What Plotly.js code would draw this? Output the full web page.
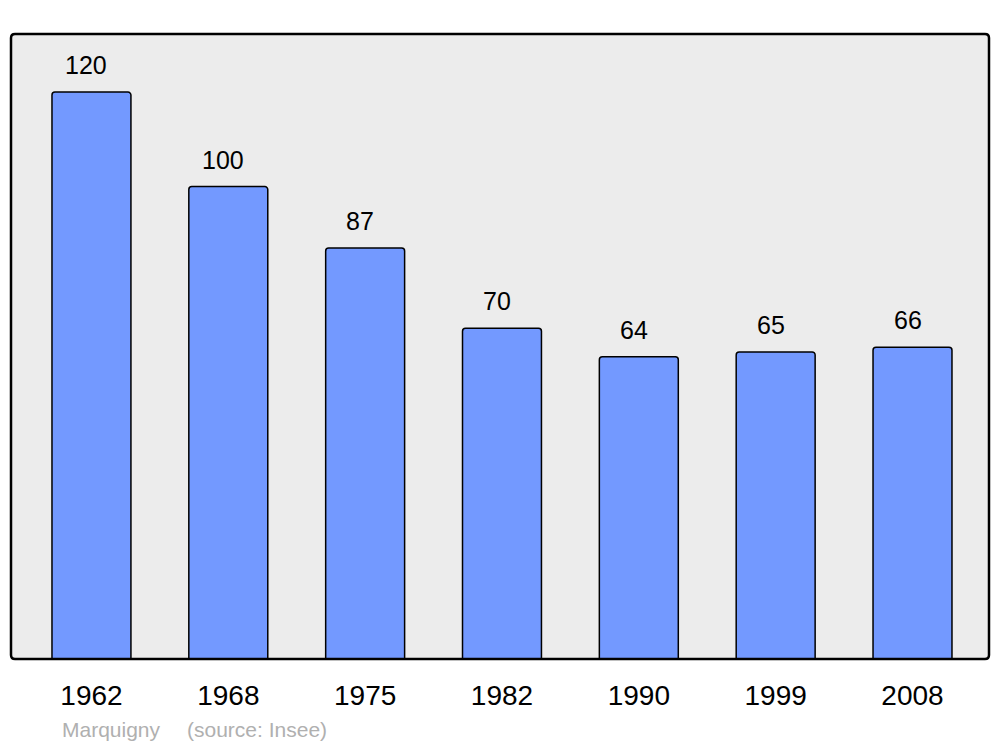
<!DOCTYPE html>
<html><head><meta charset="utf-8">
<script src="https://cdn.plot.ly/plotly-3.0.1.min.js"></script>
<style>html,body{margin:0;padding:0;background:#fff}#c{width:1000px;height:747px}</style>
</head><body><div id="c"></div>
<script>
const years = ['1962','1968','1975','1982','1990','1999','2008'];
const population = [120,100,87,70,64,65,66];
const footerName = 'Marquigny';
const footerSource = '(source: Insee)';

const L=11, R=989, T=34, B=659.5, W=1000, H=747;
const rx = 4/(R-L), ry = 4/(B-T);
const frame = `M ${rx},0 L ${1-rx},0 Q 1,0 1,${ry} L 1,${1-ry} Q 1,1 ${1-rx},1 L ${rx},1 Q 0,1 0,${1-ry} L 0,${ry} Q 0,0 ${rx},0 Z`;

const annotations = years.map((y,i)=>({
  x: i, y: population[i], xref:'x', yref:'y', text: String(population[i]),
  showarrow:false, xanchor:'center', yanchor:'middle', yshift:27, xshift:-5,
  font:{family:'Liberation Sans, Arial, sans-serif', size:25, color:'#000'}
}));
annotations.push({xref:'paper', yref:'paper', x:(60-L)/(R-L), y:-(730-B)/(B-T), xanchor:'left', yanchor:'middle',
  text: footerName, showarrow:false, font:{family:'Liberation Sans, Arial, sans-serif', size:21, color:'#b0b0b0'}});
annotations.push({xref:'paper', yref:'paper', x:(185-L)/(R-L), y:-(730-B)/(B-T), xanchor:'left', yanchor:'middle',
  text: footerSource, showarrow:false, font:{family:'Liberation Sans, Arial, sans-serif', size:21, color:'#b0b0b0'}});

Plotly.newPlot('c', [{
  type:'bar', x: years, y: population, width:0.577,
  marker:{color:'#7399ff', line:{color:'#000', width:1.5}, cornerradius:3},
  hoverinfo:'none'
}], {
  width:W, height:H,
  margin:{l:L, r:W-R, t:T, b:H-B, pad:0},
  paper_bgcolor:'#fff', plot_bgcolor:'#ececec',
  showlegend:false,
  xaxis:{type:'category', range:[-0.588, 6.559], showgrid:false, zeroline:false, showline:false,
    ticks:'', tickfont:{family:'Liberation Sans, Arial, sans-serif', size:28, color:'#000'}, ticklabelstandoff:17, fixedrange:true},
  yaxis:{range:[0,132.3], showgrid:false, zeroline:false, showline:false, showticklabels:false, ticks:'', fixedrange:true},
  shapes:[{type:'path', xref:'paper', yref:'paper', path: frame, line:{color:'#000', width:2.5}, layer:'above'}],
  annotations
}, {staticPlot:true, displayModeBar:false});
</script></body></html>
